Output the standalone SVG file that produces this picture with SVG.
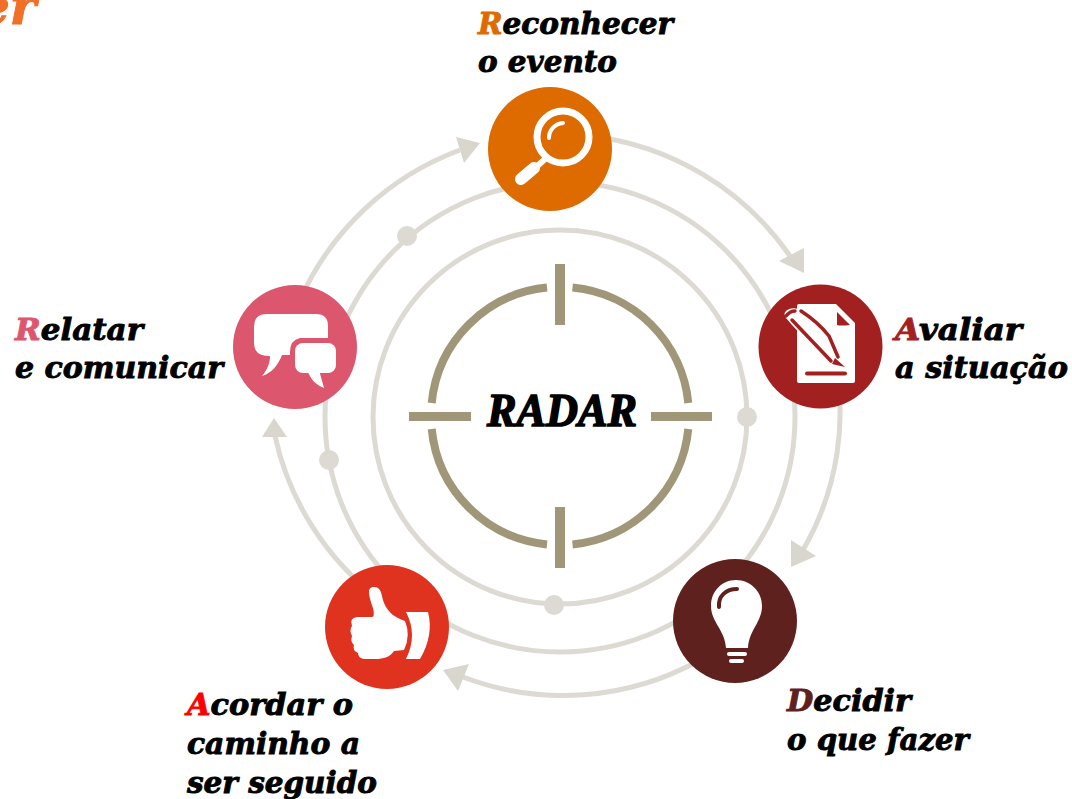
<svg xmlns="http://www.w3.org/2000/svg" width="1072" height="799" viewBox="0 0 1072 799">
<style>
.t{font-family:"DejaVu Serif",serif;font-weight:700;font-style:italic;font-size:30px;fill:#000;stroke:#000;stroke-width:.9;paint-order:stroke}
.ring{fill:none;stroke:#dcdad2;stroke-width:5}
.dot{fill:#dcdad2}
.head{fill:#d8d6cd}
.r{fill:none;stroke:#a09678;stroke-width:8}
.b{fill:#a09678}
.w{fill:#fff}
</style>
<rect width="1072" height="799" fill="#fff"/>
<text x="-22" y="24" style="font-family:'DejaVu Serif',serif;font-weight:700;font-style:italic;font-size:50px;fill:#f26f28;stroke:#f26f28;stroke-width:1">er</text>
<g id="connectors">
<circle class="ring" cx="560" cy="417" r="187"/>
<circle class="ring" cx="560" cy="417" r="235"/>
<circle class="dot" cx="407" cy="236" r="10"/>
<circle class="dot" cx="329" cy="460" r="10"/>
<circle class="dot" cx="747" cy="417" r="10"/>
<circle class="dot" cx="554" cy="605" r="10"/>
<path class="ring" d="M590 136A283 283 0 0 1 790 256"/>
<path class="ring" d="M833 350A275 275 0 0 1 803 550"/>
<path class="ring" d="M700 660A281 281 0 0 1 463 677"/>
<path class="ring" d="M380 600A281 281 0 0 1 275 436"/>
<path class="ring" d="M300 300A283 283 0 0 1 460 150"/>
<polygon class="head" points="480,143 456,137 464,163"/>
<polygon class="head" points="804,273 779,261 804,248"/>
<polygon class="head" points="791,567 791,540 816,556"/>
<polygon class="head" points="443,670 469,664 458,691"/>
<polygon class="head" points="274,418 262,437 287,437"/>
</g>
<g id="radar">
<path class="r" d="M547 287.600A128.500 128.500 0 0 0 431.700 403M572.500 287.600A128.500 128.500 0 0 1 688.300 403M431.700 429A128.500 128.500 0 0 0 547 544.400M688.300 429A128.500 128.500 0 0 1 572.500 544.400"/>
<rect class="b" x="555" y="264" width="10" height="61"/>
<rect class="b" x="555" y="507" width="10" height="61"/>
<rect class="b" x="409" y="412" width="62" height="9"/>
<rect class="b" x="651" y="412" width="61" height="9"/>
<text x="487" y="426" textLength="150" lengthAdjust="spacingAndGlyphs" style="font-family:'Liberation Serif',serif;font-weight:700;font-style:italic;font-size:46px;fill:#000;stroke:#000;stroke-width:1.6">RADAR</text>
</g>
<g id="reconhecer">
<circle cx="550" cy="149" r="62" fill="#dd6b00"/>
<circle cx="563" cy="137" r="26" fill="none" stroke="#fff" stroke-width="7"/>
<path d="M549 138A15 15 0 0 1 563 123" fill="none" stroke="#fff" stroke-width="4" stroke-linecap="round"/>
<path d="M545 159L533 170" fill="none" stroke="#fff" stroke-width="6"/>
<path d="M521 179L534 168" fill="none" stroke="#fff" stroke-width="12" stroke-linecap="round"/>
<text class="t" x="478" y="34" textLength="195" lengthAdjust="spacingAndGlyphs"><tspan fill="#dd6b00" stroke="#dd6b00">R</tspan>econhecer</text>
<text class="t" x="478" y="72" textLength="139" lengthAdjust="spacingAndGlyphs">o evento</text>
</g>
<g id="avaliar">
<circle cx="820.500" cy="346.500" r="62" fill="#a32020"/>
<path class="w" d="M799 304H836L855 323V381Q855 383 853 383H799Q797 383 797 381V306Q797 304 799 304Z"/>
<path d="M837 312L850 325Q840 326 837 325Z" fill="#a32020"/>
<path d="M786 318Q782 312 789 309Q795 307 801 310Q818 322 829 337L836 345L845 367L825 360L792 325Z" class="w"/>
<path d="M801 311Q818 322 829 336M792 320L831 361M786 316Q790 311 795 311M829 336L838 357" stroke="#a32020" stroke-width="3.500" fill="none" stroke-linecap="round"/>
<path d="M835 358L845 367L832 364Z" fill="#a32020"/>
<path d="M807 373.500H845" stroke="#a32020" stroke-width="4" stroke-linecap="round"/>
<text class="t" x="895" y="340" textLength="127" lengthAdjust="spacingAndGlyphs"><tspan fill="#a32020" stroke="#a32020">A</tspan>valiar</text>
<text class="t" x="895" y="378" textLength="173" lengthAdjust="spacingAndGlyphs">a situação</text>
</g>
<g id="decidir">
<circle cx="735" cy="621" r="62" fill="#5e211e"/>
<path class="w" d="M736 580C722 580 711 591 711 606C711 622 725 630 726 648H748C749 630 762 622 762 606C762 591 750 580 736 580Z"/>
<path d="M719 607C718 596 726 589 737 589" fill="none" stroke="#5e211e" stroke-width="4" stroke-linecap="round"/>
<rect class="w" x="727" y="652" width="20" height="4" rx="2"/>
<rect class="w" x="729" y="659" width="15" height="4" rx="2"/>
<text class="t" x="787" y="711" textLength="124" lengthAdjust="spacingAndGlyphs"><tspan fill="#5e211e" stroke="#5e211e">D</tspan>ecidir</text>
<text class="t" x="787" y="750" textLength="182" lengthAdjust="spacingAndGlyphs">o que fazer</text>
</g>
<g id="acordar">
<circle cx="387" cy="627" r="62" fill="#e0331f"/>
<path class="w" d="M357 617H372Q375 617 373 608C369 596 366 587 374 587C382 587 381 595 384 603C388 613 396 618 405 621Q411 635 404 650L394 651C390 657 384 659 375 659H364Q358 658 358 653Q352 650 354 645Q350 642 352 636Q349 630 352 626Q349 618 357 617Z"/>
<path class="w" d="M406 612H428Q434 635 420 659H406Q418 635 406 612Z"/>
<text class="t" x="187" y="715" textLength="166" lengthAdjust="spacingAndGlyphs"><tspan fill="#ff0000" stroke="#ff0000">A</tspan>cordar o</text>
<text class="t" x="187" y="754" textLength="173" lengthAdjust="spacingAndGlyphs">caminho a</text>
<text class="t" x="187" y="793" textLength="190" lengthAdjust="spacingAndGlyphs">ser seguido</text>
</g>
<g id="relatar">
<circle cx="295" cy="347" r="62" fill="#dc566e"/>
<path class="w" d="M267 314H316Q328 314 328 326V338H300Q290 340 290 352V355H282C278 365 272 373 262 376C268 369 270 362 270 356H267Q254 355 254 343V327Q254 314 267 314Z"/>
<rect class="w" x="295" y="343" width="41" height="30" rx="8"/>
<path class="w" d="M307 370H319L324 388C316 385 311 380 307 370Z"/>
<text class="t" x="15" y="340" textLength="128" lengthAdjust="spacingAndGlyphs"><tspan fill="#dc566e" stroke="#dc566e">R</tspan>elatar</text>
<text class="t" x="15" y="378" textLength="208" lengthAdjust="spacingAndGlyphs">e comunicar</text>
</g>
</svg>
